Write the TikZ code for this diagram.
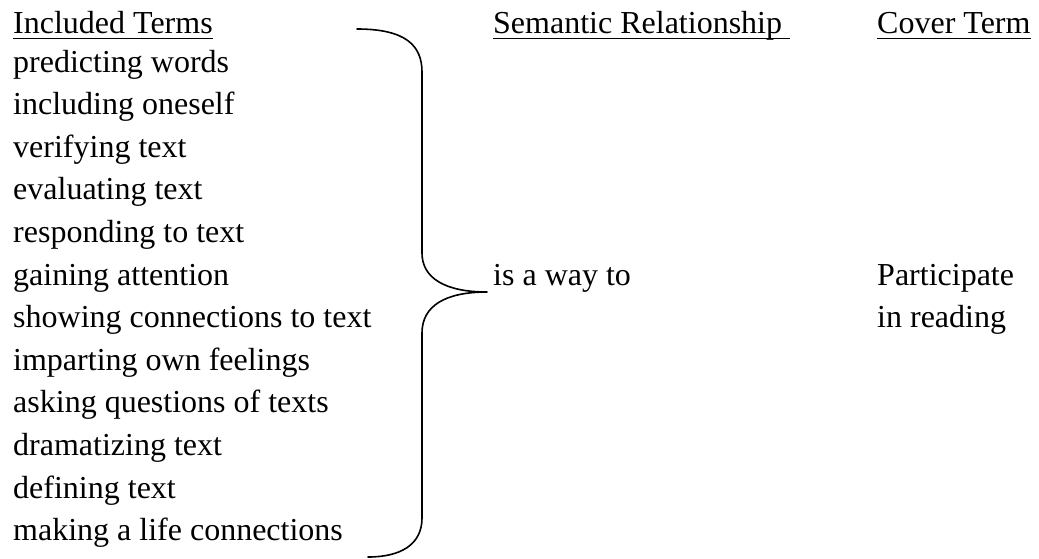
\documentclass[tikz,border=0pt]{standalone}
\usepackage{fontspec}
\setmainfont{Liberation Serif}
\begin{document}
\begin{tikzpicture}[x=1pt,y=-1pt,
  txt/.style={anchor=base west,inner sep=0pt,font=\fontsize{32}{38}\selectfont},
  uline/.style={line width=1.6pt},
  bracepath/.style={line width=1.6pt,line cap=round,line join=round}]
\useasboundingbox (0,0) rectangle (1039,558);
% headers
\node[txt] (h1) at (13,33) {Included Terms};
\node[txt] (h2) at (493,33) {Semantic Relationship};
\node[txt] (h3) at (877,33) {Cover Term};
\draw[uline] ([yshift=-5.5pt]h1.base west) -- ([yshift=-5.5pt]h1.base east);
\draw[uline] ([yshift=-5.5pt]h2.base west) -- ([yshift=-5.5pt,xshift=8pt]h2.base east);
\draw[uline] ([yshift=-5.5pt]h3.base west) -- ([yshift=-5.5pt]h3.base east);
% included terms
\foreach \t [count=\i] in {predicting words,including oneself,verifying text,evaluating text,responding to text,gaining attention,showing connections to text,imparting own feelings,asking questions of texts,dramatizing text,defining text,making a life connections}
  \node[txt] (t\i) at (13,{72+(\i-1)*42.6}) {\t};
% relationship and cover term
\node[txt] (rel) at (493,{72+5*42.6}) {is a way to};
\node[txt] (c1) at (877,{72+5*42.6}) {Participate};
\node[txt] (c2) at (877,{72+6*42.6}) {in reading};
% brace
\coordinate (btop) at (357,29);
\coordinate (btip) at (487,292);
\coordinate (bbot) at (368,557);
\draw[bracepath] (btop) .. controls (405,29) and (422,45) .. (422,72)
  -- (422,253) .. controls (422,278) and (445,292) .. (btip)
  .. controls (445,292) and (422,306) .. (422,333)
  -- (422,518) .. controls (422,545) and (400,557) .. (bbot);
\end{tikzpicture}
\end{document}
